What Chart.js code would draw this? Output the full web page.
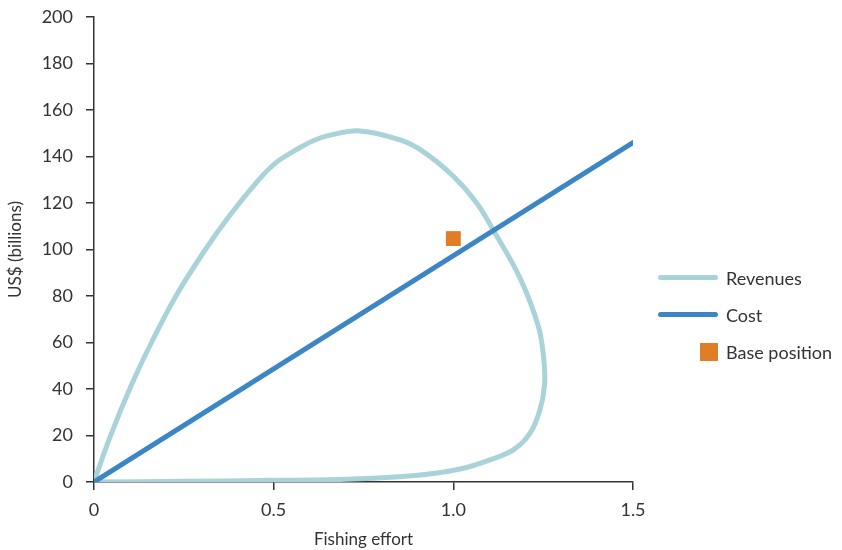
<!DOCTYPE html>
<html>
<head>
<meta charset="utf-8">
<script src="https://cdn.jsdelivr.net/npm/chart.js@4"></script>
<style>
  body { margin: 0; background: #fff; }
  #wrap { position: relative; width: 842px; height: 550px; }
  #legend { position: absolute; left: 658px; top: 259px; font-family: Lato, "Open Sans", sans-serif; font-size: 18px; color: #333; }
  .item { display: flex; align-items: center; height: 37px; }
  .line { width: 60px; height: 5px; border-radius: 3px; margin-right: 8px; }
  .box { width: 18px; height: 18px; margin-left: 42px; margin-right: 8px; }
</style>
</head>
<body>
<div id="wrap">
  <canvas id="grafico" width="842" height="550"></canvas>
  <div id="legend"></div>
</div>
<script>
// Revenue curve (loop)
const revenueX = [0, 0.045, 0.105, 0.16, 0.228, 0.31, 0.375, 0.462, 0.51, 0.564, 0.61, 0.657, 0.740, 0.852, 0.917, 1.0, 1.065, 1.111, 1.186, 1.237, 1.251, 1.254, 1.241, 1.213, 1.167, 1.102, 1.028, 0.95, 0.85, 0.7, 0.5, 0.25, 0];
const revenueY = [0, 19.5, 42, 60, 80, 100, 114.1, 130.6, 137.8, 143, 146.8, 149.2, 151, 147.1, 142, 131.5, 120, 108.4, 87.6, 66.8, 54, 42, 31, 20.9, 13.8, 9.5, 5.9, 3.8, 2.3, 1.2, 0.7, 0.3, 0];
// Cost line
const costX = [0, 1.5];
const costY = [0, 146];
// Base position
const baseX = [1.0];
const baseY = [104.7];

const xTicks = [0, 0.5, 1.0, 1.5];
const xTickLabels = ['0', '0.5', '1.0', '1.5'];
const yTicks = [0, 20, 40, 60, 80, 100, 120, 140, 160, 180, 200];

const series = [
    { label: 'Revenues', color: '#A9D3D8', type: 'line' },
    { label: 'Cost', color: '#3D86C6', type: 'line' },
    { label: 'Base position', color: '#E07D26', type: 'box' }
];

const toPoints = (xs, ys) => xs.map((x, i) => ({ x: x, y: ys[i] }));
const familia = 'Lato, "Open Sans", sans-serif';

const ctx = document.getElementById('grafico').getContext('2d');
new Chart(ctx, {
    type: 'scatter',
    data: {
        datasets: [
            {
                label: series[0].label,
                data: toPoints(revenueX, revenueY),
                showLine: true,
                borderColor: series[0].color,
                borderWidth: 5,
                pointRadius: 0,
                tension: 0.35,
                order: 3
            },
            {
                label: series[1].label,
                data: toPoints(costX, costY),
                showLine: true,
                borderColor: series[1].color,
                borderWidth: 5,
                borderCapStyle: 'round',
                pointRadius: 0,
                order: 2
            },
            {
                label: series[2].label,
                data: toPoints(baseX, baseY),
                pointStyle: 'rect',
                pointRadius: 10.5,
                backgroundColor: series[2].color,
                borderWidth: 0,
                order: 1
            }
        ]
    },
    options: {
        responsive: false,
        animation: false,
        layout: { padding: { left: 0, right: 209, top: 17, bottom: 0 } },
        plugins: { legend: { display: false }, tooltip: { enabled: false } },
        scales: {
            x: {
                type: 'linear',
                min: 0,
                max: 1.5,
                afterBuildTicks: s => { s.ticks = xTicks.map(v => ({ value: v })); },
                afterFit: s => { s.height = 68; },
                ticks: {
                    color: '#333',
                    font: { family: familia, size: 18 },
                    padding: 9,
                    callback: (v) => xTickLabels[xTicks.indexOf(v)]
                },
                grid: { drawOnChartArea: false, tickLength: 8, color: '#333', lineWidth: 1.5 },
                border: { color: '#333', width: 1.5 },
                title: { display: true, text: 'Fishing effort', color: '#333', font: { family: familia, size: 17 }, padding: { top: 4, bottom: 0 } }
            },
            y: {
                min: 0,
                max: 200,
                afterBuildTicks: s => { s.ticks = yTicks.map(v => ({ value: v })); },
                afterFit: s => { s.width = 94; s.paddingTop = 10; s.paddingBottom = 0; },
                ticks: { color: '#333', font: { family: familia, size: 18 }, padding: 13 },
                grid: { drawOnChartArea: false, tickLength: 8, color: '#333', lineWidth: 1.5 },
                border: { color: '#333', width: 1.5 },
                title: { display: true, text: 'US$ (billions)', color: '#333', font: { family: familia, size: 17 }, padding: { top: 5, bottom: 0 } }
            }
        }
    }
});

// Legenda
const legend = document.getElementById('legend');
series.forEach(s => {
    const item = document.createElement('div');
    item.className = 'item';
    const marca = document.createElement('div');
    marca.className = s.type;
    marca.style.backgroundColor = s.color;
    const nome = document.createElement('span');
    nome.textContent = s.label;
    item.appendChild(marca);
    item.appendChild(nome);
    legend.appendChild(item);
});
</script>
</body>
</html>
